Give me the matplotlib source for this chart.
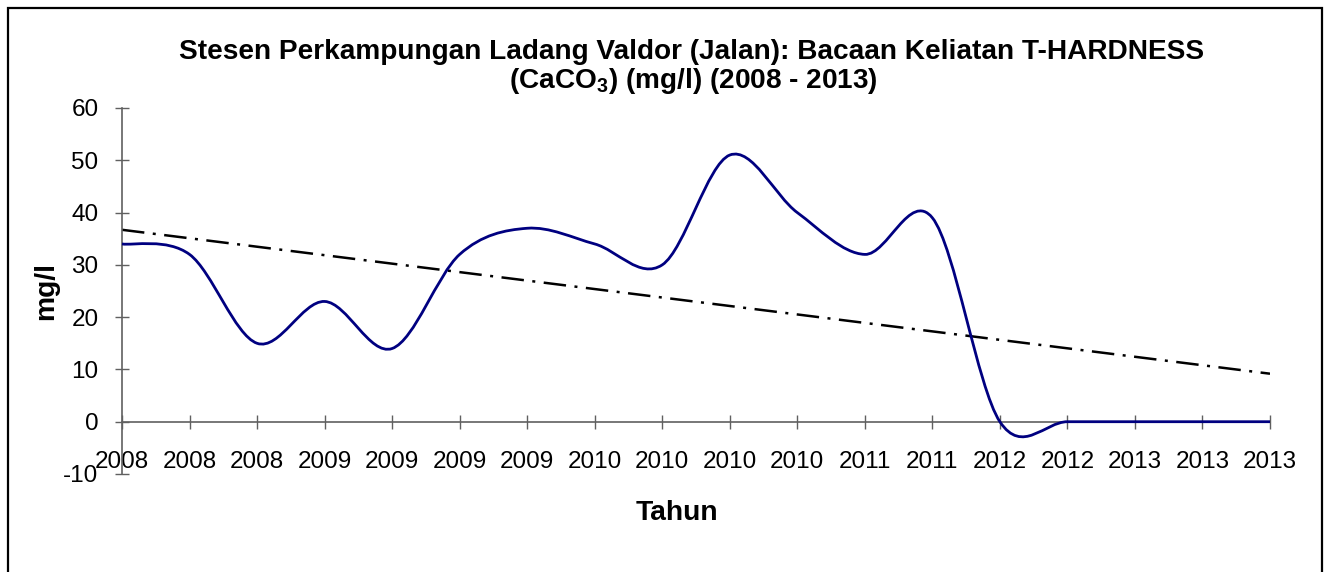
import numpy as np
import matplotlib
matplotlib.use('Agg')
import matplotlib.pyplot as plt
from matplotlib.path import Path
from matplotlib.patches import PathPatch, Rectangle

plt.rcParams['font.family'] = ['Liberation Sans', 'DejaVu Sans']
plt.rcParams['mathtext.fontset'] = 'custom'
plt.rcParams['mathtext.rm'] = 'Liberation Sans'
plt.rcParams['mathtext.bf'] = 'Liberation Sans:bold'
plt.rcParams['axes.unicode_minus'] = False

# readings (mg/l), one per sampling point
tick_labels = ['2008', '2008', '2008', '2009', '2009', '2009', '2009', '2010', '2010',
               '2010', '2010', '2011', '2011', '2012', '2012', '2013', '2013', '2013']
hardness = [34, 32, 15, 23, 14, 32, 37, 34, 30, 51, 40, 32, 39, 0, 0, 0, 0, 0]
y_ticks = [-10, 0, 10, 20, 30, 40, 50, 60]

W, H = 1328, 572
fig = plt.figure(figsize=(W / 100, H / 100), dpi=100)
ax = fig.add_axes([122 / W, 1 - 474 / H, (1270 - 122) / W, (474 - 108) / H])

x = np.arange(len(hardness), dtype=float)
y = np.array(hardness, dtype=float)

# smoothed line (Catmull-Rom style bezier, like the spreadsheet "smoothed line")
pts = np.column_stack([x, y])
ext = np.vstack([pts[0], pts, pts[-1]])
verts = [pts[0]]
codes = [Path.MOVETO]
for i in range(len(pts) - 1):
    p0, p1, p2, p3 = ext[i], ext[i + 1], ext[i + 2], ext[i + 3]
    verts += [p1 + (p2 - p0) / 6, p2 - (p3 - p1) / 6, p2]
    codes += [Path.CURVE4] * 3
ax.add_patch(PathPatch(Path(verts, codes), facecolor='none', edgecolor='#000080',
                       lw=2.0, clip_on=False, zorder=3))

# linear trendline
k, b = np.polyfit(x, y, 1)
ax.plot([x[0], x[-1]], [k * x[0] + b, k * x[-1] + b], color='black', lw=1.8,
        linestyle=(0, (9, 3.4, 1.2, 3.4)), zorder=2)

ax.set_xlim(0, len(hardness) - 1)
ax.set_ylim(-10, 60)
ax.set_xticks(x)
ax.set_xticklabels(tick_labels)
ax.set_yticks(y_ticks)
for s in ['top', 'right']:
    ax.spines[s].set_visible(False)
ax.spines['bottom'].set_position(('data', 0))
for s in ['left', 'bottom']:
    ax.spines[s].set_color('#606060')
    ax.spines[s].set_linewidth(1.2)
ax.tick_params(axis='both', direction='inout', length=10, width=1.0, color='#606060',
               labelsize=17.5, labelcolor='black')
ax.tick_params(axis='y', pad=12)
ax.tick_params(axis='x', pad=16)
ax.patch.set_alpha(0)

# titles and axis labels
fig.text(692 / W, 1 - 59 / H, 'Stesen Perkampungan Ladang Valdor (Jalan): Bacaan Keliatan T-HARDNESS',
         ha='center', va='baseline', fontsize=20.2, fontweight='bold')
fig.text(693 / W, 1 - 88 / H, r'(CaCO$_\mathbf{3}$) (mg/l) (2008 - 2013)',
         ha='center', va='baseline', fontsize=20.2, fontweight='bold')
fig.text(677 / W, 1 - 513 / H, 'Tahun', ha='center', va='center', fontsize=20.3, fontweight='bold')
fig.text(46 / W, 1 - 291 / H, 'mg/l', ha='center', va='center', rotation=90,
         fontsize=20.3, fontweight='bold')

# chart border
fig.patches.append(Rectangle((8 / W, -0.05), (1322 - 8) / W, 1.05 - 8 / H, transform=fig.transFigure,
                             fill=False, edgecolor='black', lw=1.6))

fig.savefig('out.png', dpi=100)
